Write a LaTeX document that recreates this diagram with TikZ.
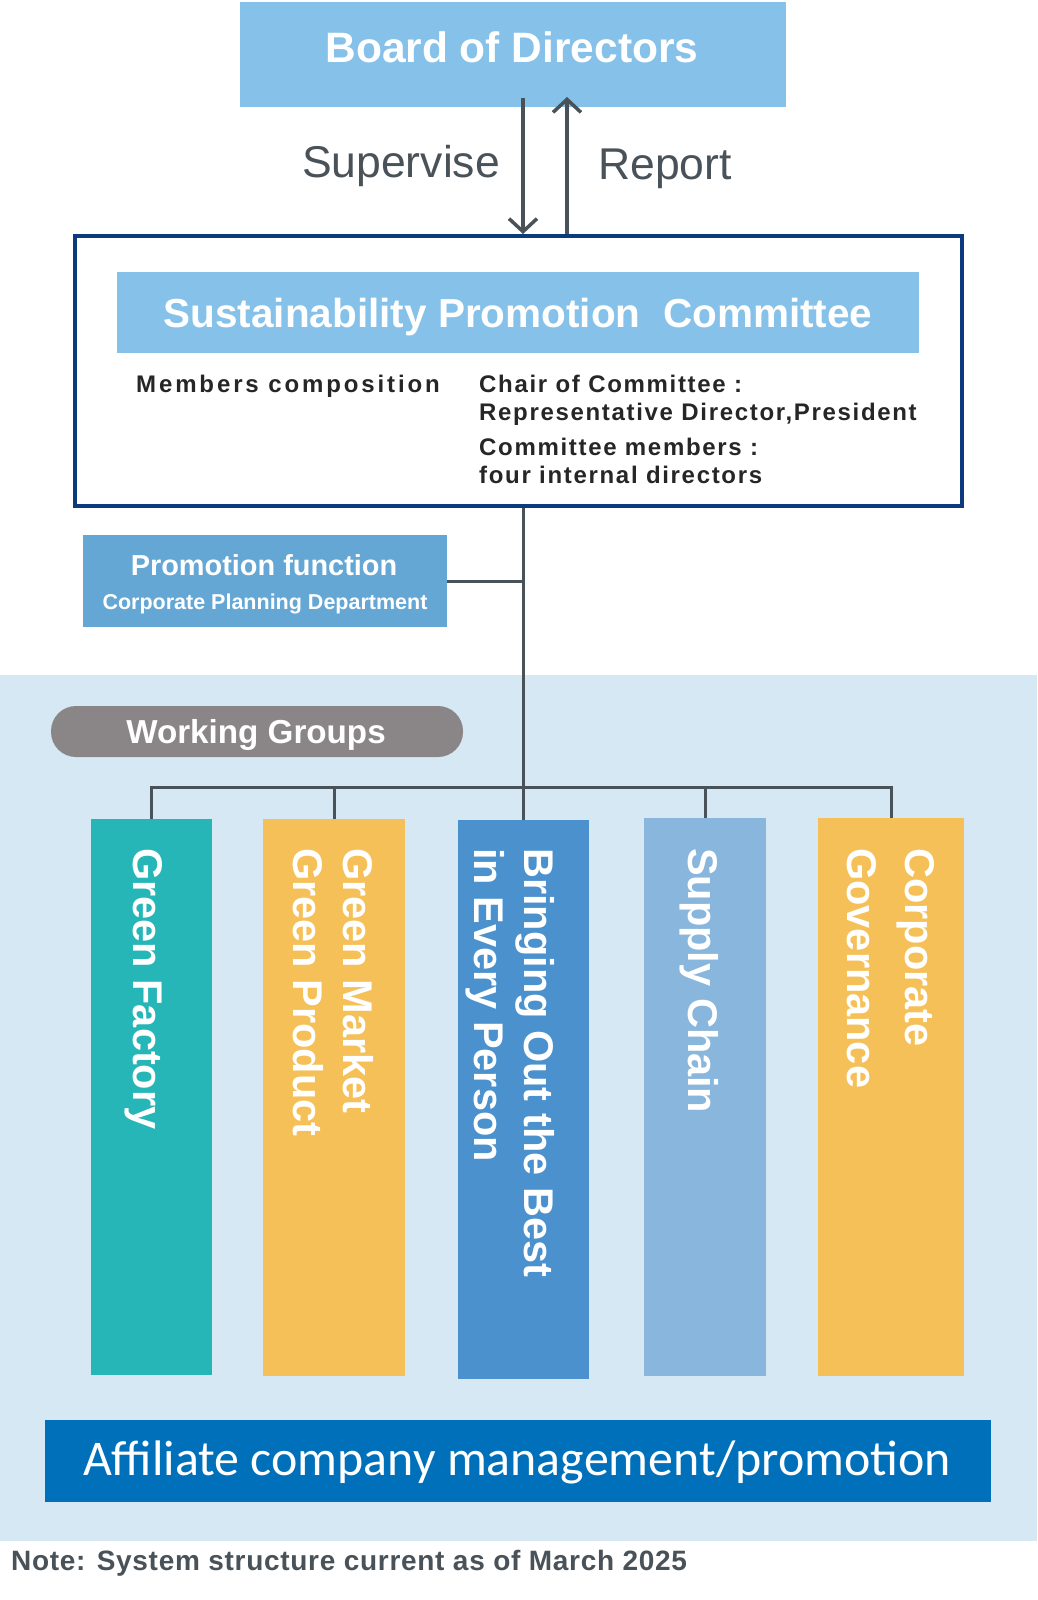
\documentclass[tikz,border=0pt]{standalone}
\usepackage{fontspec}
\setmainfont{Liberation Sans}
\newfontfamily\carlitofont{Carlito}
\usetikzlibrary{arrows.meta}

\definecolor{boardblue}{HTML}{85C1E9}
\definecolor{navy}{HTML}{0B3A7E}
\definecolor{promoblue}{HTML}{64A7D5}
\definecolor{bgblue}{HTML}{D6E8F4}
\definecolor{pillgray}{HTML}{8A8687}
\definecolor{teal}{HTML}{27B6B8}
\definecolor{amber}{HTML}{F5C058}
\definecolor{midblue}{HTML}{4A91CE}
\definecolor{paleblue}{HTML}{88B6DC}
\definecolor{affblue}{HTML}{0070BA}
\definecolor{linegray}{HTML}{4A5259}
\definecolor{inkgray}{HTML}{262626}

\newcommand{\setfs}[1]{\fontsize{#1}{#1}\selectfont}

\begin{document}
\begin{tikzpicture}[x=1pt, y=-1pt,
    conn/.style={draw=linegray, line width=3pt},
    arr/.style={draw=linegray, line width=3.5pt, -{Straight Barb[length=13pt, width=28pt]}},
    fillbox/.style={inner sep=0pt, outer sep=0pt},
    txt/.style={inner sep=0pt, anchor=base},
    memb/.style={txt, anchor=base west, text=inkgray, font=\bfseries\setfs{24}\addfontfeature{LetterSpace=7}},
    wg/.style={txt, rotate=-90, anchor=base west, text=white, font=\bfseries\setfs{41.5}}]
    \useasboundingbox (0,0) rectangle (1037,1600);
    \fill[white] (0,0) rectangle (1037,1600);
    \fill[bgblue] (0,675) rectangle (1037,1541);

    % top
    \node[fillbox, fill=boardblue, minimum width=546pt, minimum height=105pt] (board) at (513,54.5) {};
    \node[txt, text=white, font=\bfseries\setfs{42.5}] (boardlbl) at (512,63) {Board of Directors};
    \node[draw=navy, line width=4pt, fill=white, inner sep=0pt, minimum width=887pt, minimum height=270pt] (committee) at (518.5,371) {};
    \draw[arr] ([xshift=10pt,yshift=9pt]board.south) -- ([xshift=10pt]board.south |- committee.north);
    \draw[arr] ([xshift=54pt]board.south |- committee.north) -- ([xshift=54pt,yshift=10pt]board.south);
    \node[txt, text=linegray, font=\setfs{44.5}] (supervise) at (401,177) {Supervise};
    \node[txt, text=linegray, font=\setfs{44.5}] (report) at (665,179) {Report};

    % committee
    \node[fillbox, fill=boardblue, minimum width=802pt, minimum height=81pt] (title) at (518,312.5) {};
    \node[txt, text=white, font=\bfseries\setfs{40.5}] (titlelbl) at (518,327) {Sustainability Promotion\ \ Committee};
    \node[memb, font=\bfseries\setfs{24}\addfontfeature{LetterSpace=12}] (members) at (136,392) {Members composition};
    \node[memb] (chair) at (479,392) {Chair of Committee :};
    \node[memb] (chairname) at (479,420) {Representative Director,President};
    \node[memb] (cmembers) at (479,455) {Committee members :};
    \node[memb] (cmembersname) at (479,483) {four internal directors};

    % promotion
    \node[fillbox, fill=promoblue, minimum width=364pt, minimum height=92pt] (promo) at (265,581) {};
    \node[txt, text=white, font=\bfseries\setfs{28.9}] (promolbl) at (264,575) {Promotion function};
    \node[txt, text=white, font=\bfseries\setfs{21.5}] (promodept) at (265,609) {Corporate Planning Department};
    \node[fillbox, fill=pillgray, rounded corners=25pt, minimum width=412pt, minimum height=51pt] (wgroups) at (257,731.5) {};
    \node[txt, text=white, font=\bfseries\setfs{33.2}] (wgroupslbl) at (256,743) {Working Groups};

    % working groups
    \node[fillbox, fill=teal, minimum width=121pt, minimum height=556pt] (g1) at (151.5,1097) {};
    \node[fillbox, fill=amber, minimum width=142pt, minimum height=557pt] (g2) at (334,1097.5) {};
    \node[fillbox, fill=midblue, minimum width=131pt, minimum height=559pt] (g3) at (523.5,1099.5) {};
    \node[fillbox, fill=paleblue, minimum width=122pt, minimum height=558pt] (g4) at (705,1097) {};
    \node[fillbox, fill=amber, minimum width=146pt, minimum height=558pt] (g5) at (891,1097) {};
    \node[wg] (g1a) at (133,848) {Green Factory};
    \node[wg] (g2a) at (343,848) {Green Market};
    \node[wg] (g2b) at (293,848) {Green Product};
    \node[wg] (g3a) at (524,848) {Bringing Out the Best};
    \node[wg] (g3b) at (474,848) {in Every Person};
    \node[wg] (g4a) at (688,848) {Supply Chain};
    \node[wg] (g5a) at (905,848) {Corporate};
    \node[wg] (g5b) at (847,848) {Governance};

    % lines
    \coordinate (bar) at (524,787);
    \draw[conn] (committee.south -| g3.north) -- (g3.north);
    \draw[conn] (g1.north) |- (bar) -| (g5.north);
    \draw[conn] (g2.north) -- (g2.north |- bar);
    \draw[conn] (g4.north) -- (g4.north |- bar);
    \draw[conn] (promo.east) -- (promo.east -| g3.north);

    % bottom
    \node[fillbox, fill=affblue, minimum width=946pt, minimum height=82pt] (affiliate) at (518,1461) {};
    \node[txt, text=white, font=\carlitofont\setfs{49.9}] (affiliatelbl) at (517,1475) {Affiliate company management/promotion};
    \node[txt, anchor=base west, text=linegray, font=\bfseries\setfs{28}\addfontfeature{LetterSpace=2.5}] (note) at (11,1570) {Note: System structure current as of March 2025};
\end{tikzpicture}
\end{document}
